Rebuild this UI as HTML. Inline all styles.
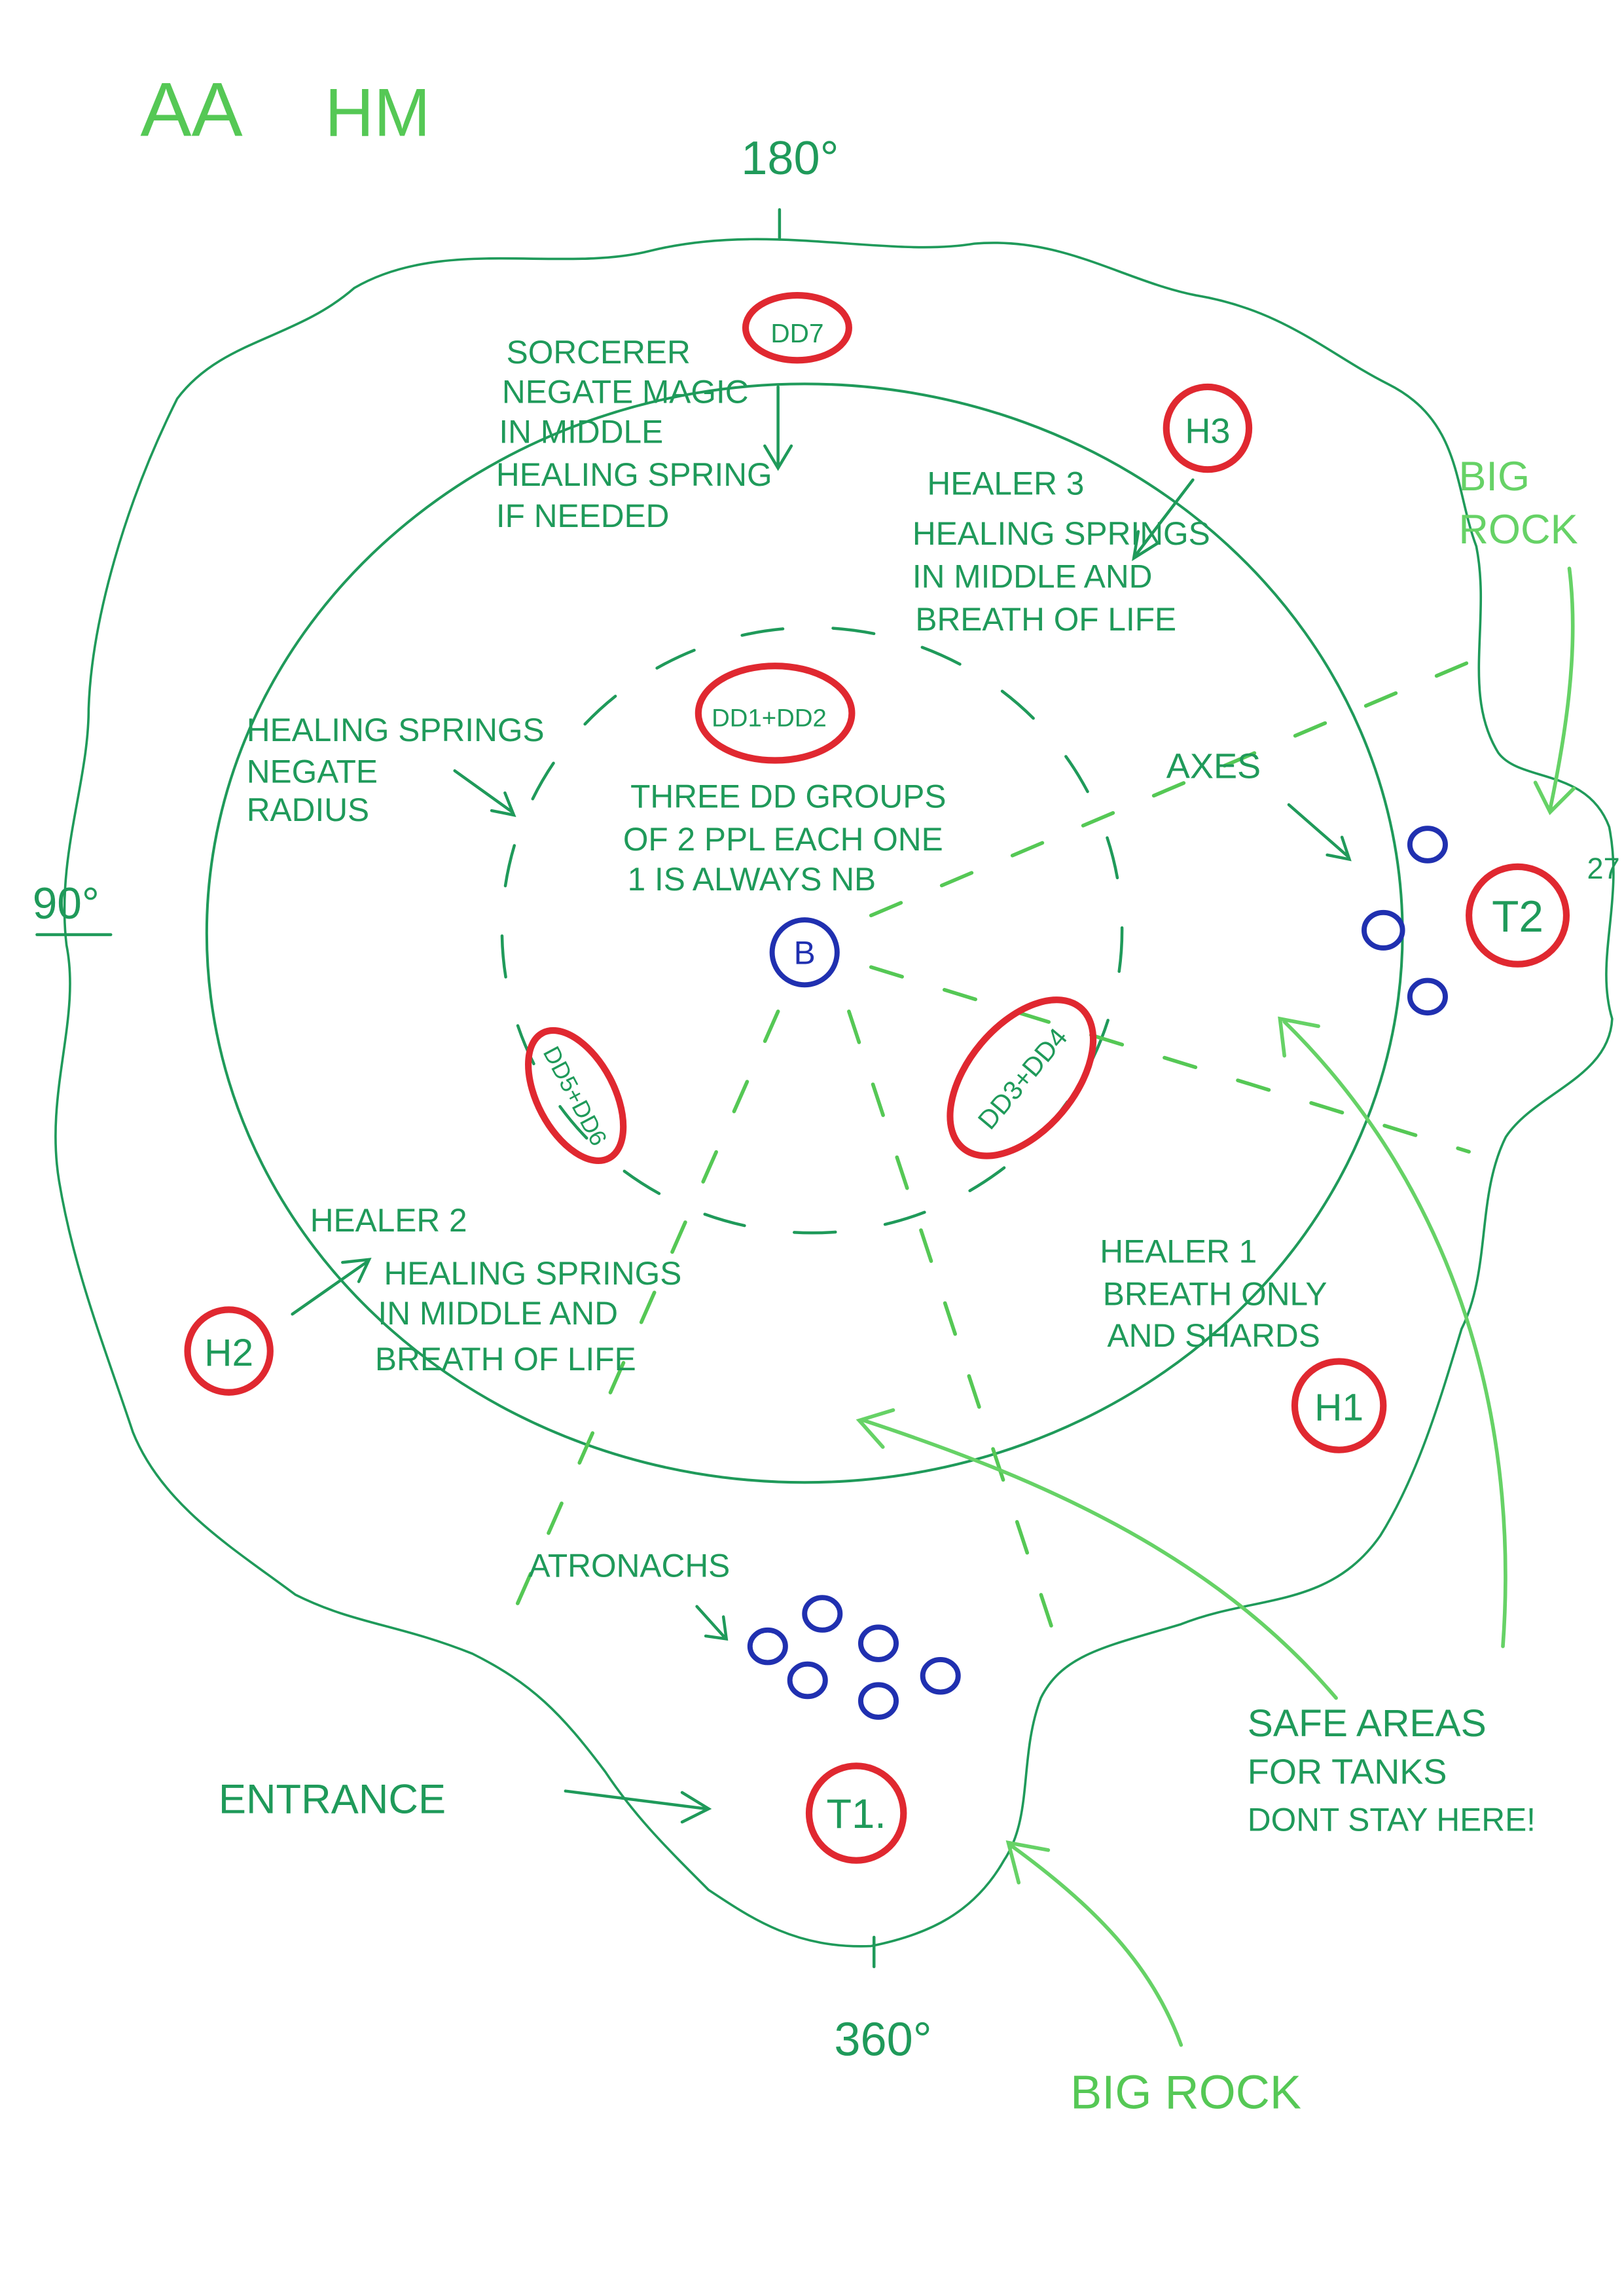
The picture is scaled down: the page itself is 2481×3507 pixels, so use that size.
<!DOCTYPE html>
<html><head><meta charset="utf-8">
<style>
html,body{margin:0;padding:0;background:#fff;}
svg{display:block;}
text{font-family:"Liberation Sans",sans-serif;}
</style></head>
<body>
<svg width="2481" height="3507" viewBox="0 0 1100 1555" xmlns="http://www.w3.org/2000/svg">
<rect width="1100" height="1555" fill="#fff"/>
<g fill="none" stroke-linecap="round">
<!-- outer wavy blob -->
<path d="M120,270 C150,230 200,230 240,195 C300,160 380,185 440,170 C520,150 600,175 660,165 C720,160 760,190 810,200 C870,210 900,240 940,260 C990,285 985,330 1000,370 C1010,420 990,470 1015,510 C1030,530 1075,520 1090,560 C1100,610 1080,650 1092,690 C1090,730 1040,740 1020,770 C1000,810 1010,860 990,900 C975,950 960,1000 935,1040 C900,1090 850,1080 800,1100 C750,1115 720,1120 705,1150 C690,1190 700,1230 680,1260 C660,1295 630,1310 590,1318 C540,1320 510,1300 480,1280 C450,1250 430,1230 410,1200 C380,1160 360,1140 320,1120 C270,1100 240,1100 200,1080 C160,1050 110,1020 90,970 C70,910 50,860 40,800 C30,740 55,690 45,640 C38,580 60,530 60,480 C62,420 85,340 120,270 Z" stroke="#1f9a5a" stroke-width="1.6"/>
<!-- main circle -->
<ellipse cx="545" cy="632" rx="405" ry="372" stroke="#1f9a5a" stroke-width="1.8"/>
<!-- inner dashed circle -->
<ellipse cx="550" cy="630" rx="210" ry="205" stroke="#1f9a5a" stroke-width="2" stroke-dasharray="28 34"/>
<!-- dashed light lines -->
<g stroke="#55c855" stroke-width="2.5" stroke-dasharray="22 30">
<line x1="527" y1="685" x2="340" y2="1110"/>
<line x1="575" y1="685" x2="715" y2="1110"/>
<line x1="590" y1="655" x2="995" y2="780"/>
<line x1="590" y1="620" x2="1015" y2="440"/>
</g>
<!-- ticks -->
<g stroke="#1f9a5a" stroke-width="2">
<line x1="528" y1="142" x2="528" y2="162"/>
<line x1="592" y1="1312" x2="592" y2="1332"/>
<line x1="25" y1="633" x2="75" y2="633"/>
</g>
<!-- arrows dark green -->
<g stroke="#1f9a5a" stroke-width="2">
<path d="M527,262 L527,315 M518,302 L527,317 L536,302"/>
<path d="M808,325 L770,375 M771,360 L768,378 L784,368"/>
<path d="M308,522 L347,550 M333,549 L348,552 L342,537"/>
<path d="M873,545 L913,580 M899,579 L914,582 L909,567"/>
<path d="M198,890 L248,855 M232,855 L250,853 L243,868"/>
<path d="M472,1088 L490,1108 M478,1108 L492,1110 L490,1095"/>
<path d="M383,1213 L478,1225 M462,1214 L480,1225 L462,1234"/>
</g>
<!-- light green arrows -->
<g stroke="#66d266" stroke-width="2.5">
<path d="M1063,385 C1070,440 1060,500 1050,548 M1040,530 L1050,550 L1066,534"/>
<path d="M1018,1115 C1030,950 980,800 870,692 M870,715 L867,690 L893,695"/>
<path d="M905,1150 C820,1050 700,1000 585,962 M605,955 L582,962 L598,980"/>
<path d="M800,1385 C780,1330 740,1290 685,1250 M690,1275 L683,1248 L710,1253"/>
</g>
<!-- red ellipses -->
<g stroke="#e02830" stroke-width="4.5">
<ellipse cx="540" cy="222" rx="35" ry="22"/>
<circle cx="818" cy="290" r="28"/>
<ellipse cx="525" cy="483" rx="52" ry="32"/>
<ellipse cx="692" cy="730" rx="62" ry="36" transform="rotate(-50 692 730)"/>
<ellipse cx="390" cy="742" rx="48" ry="26" transform="rotate(62 390 742)"/>
<circle cx="155" cy="915" r="28"/>
<circle cx="907" cy="952" r="30"/>
<circle cx="1028" cy="620" r="33"/>
<circle cx="580" cy="1228" r="32"/>
</g>
<!-- blue circles -->
<g stroke="#2030b0" stroke-width="3.5">
<circle cx="545" cy="645" r="22"/>
<ellipse cx="967" cy="572" rx="12" ry="11"/>
<ellipse cx="937" cy="630" rx="13" ry="12"/>
<ellipse cx="967" cy="675" rx="12" ry="11"/>
<ellipse cx="520" cy="1115" rx="12" ry="11"/>
<ellipse cx="557" cy="1093" rx="12" ry="11"/>
<ellipse cx="595" cy="1113" rx="12" ry="11"/>
<ellipse cx="547" cy="1138" rx="12" ry="11"/>
<ellipse cx="595" cy="1152" rx="12" ry="11"/>
<ellipse cx="637" cy="1135" rx="12" ry="11"/>
</g>
</g>
<!-- text -->
<g fill="#1f9a5a" font-size="22">
<text x="95" y="92" font-size="52" fill="#55c855">AA</text>
<text x="220" y="92" font-size="46" fill="#55c855">HM</text>
<text x="502" y="118" font-size="32">180°</text>
<text x="22" y="622" font-size="30">90°</text>
<text x="565" y="1392" font-size="32">360°</text>
<text x="1075" y="595" font-size="20">27</text>
<text x="343" y="246">SORCERER</text>
<text x="340" y="273">NEGATE MAGIC</text>
<text x="338" y="300">IN MIDDLE</text>
<text x="336" y="329">HEALING SPRING</text>
<text x="336" y="357">IF NEEDED</text>
<text x="628" y="335">HEALER 3</text>
<text x="618" y="369">HEALING SPRINGS</text>
<text x="618" y="398">IN MIDDLE AND</text>
<text x="620" y="427">BREATH OF LIFE</text>
<text x="988" y="332" font-size="28" fill="#66d266">BIG</text>
<text x="988" y="368" font-size="28" fill="#66d266">ROCK</text>
<text x="167" y="502">HEALING SPRINGS</text>
<text x="167" y="530">NEGATE</text>
<text x="167" y="556">RADIUS</text>
<text x="427" y="547">THREE DD GROUPS</text>
<text x="422" y="576">OF 2 PPL EACH ONE</text>
<text x="425" y="603">1 IS ALWAYS NB</text>
<text x="790" y="527" font-size="24">AXES</text>
<text x="482" y="492" font-size="17">DD1+DD2</text>
<text x="540" y="232" font-size="18" text-anchor="middle">DD7</text>
<text x="818" y="300" font-size="24" text-anchor="middle">H3</text>
<text x="545" y="653" font-size="22" fill="#2030b0" text-anchor="middle">B</text>
<text x="692" y="737" font-size="18" text-anchor="middle" transform="rotate(-50 692 730)">DD3+DD4</text>
<text x="390" y="748" font-size="16" text-anchor="middle" transform="rotate(62 390 742)">DD5+DD6</text>
<text x="1028" y="631" font-size="30" text-anchor="middle">T2</text>
<text x="210" y="834">HEALER 2</text>
<text x="260" y="870">HEALING SPRINGS</text>
<text x="256" y="897">IN MIDDLE AND</text>
<text x="254" y="928">BREATH OF LIFE</text>
<text x="155" y="925" font-size="26" text-anchor="middle">H2</text>
<text x="745" y="855">HEALER 1</text>
<text x="747" y="884">BREATH ONLY</text>
<text x="750" y="912">AND SHARDS</text>
<text x="907" y="962" font-size="26" text-anchor="middle">H1</text>
<text x="358" y="1068">ATRONACHS</text>
<text x="148" y="1228" font-size="28">ENTRANCE</text>
<text x="580" y="1238" font-size="28" text-anchor="middle">T1.</text>
<text x="845" y="1176" font-size="26">SAFE AREAS</text>
<text x="845" y="1208" font-size="24">FOR TANKS</text>
<text x="845" y="1240" font-size="22">DONT STAY HERE!</text>
<text x="725" y="1428" font-size="32" fill="#55c855">BIG ROCK</text>
</g>
</svg>
</body></html>
